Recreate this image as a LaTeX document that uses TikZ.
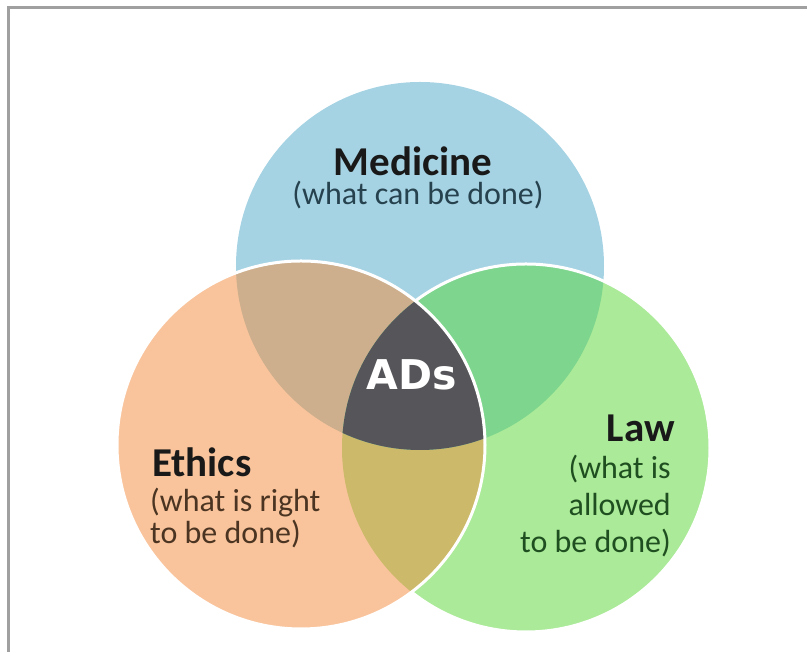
\documentclass[tikz,border=0pt]{standalone}
\usepackage{fontspec}
\setmainfont{Carlito}
\newfontfamily\adsfont{DejaVu Sans}
\usepackage{tikz}
\usetikzlibrary{positioning}
\definecolor{medblue}{HTML}{A6D3E3}
\definecolor{ethorange}{HTML}{F9C49C}
\definecolor{lawgreen}{HTML}{AAEA98}
\definecolor{medeth}{HTML}{CDAF8D}
\definecolor{medlaw}{HTML}{7ED68E}
\definecolor{ethlaw}{HTML}{CCBA6A}
\definecolor{allthree}{HTML}{56565A}
\definecolor{framegray}{HTML}{A0A0A0}
\definecolor{medtxt}{HTML}{27424F}
\definecolor{ethtxt}{HTML}{4B3522}
\definecolor{lawtxt}{HTML}{1F4F20}
\tikzset{
vd_title/.style = {inner sep=0pt, font=\fontsize{41}{45}\selectfont\bfseries, text=black!90},% set name
vd_sub/.style = {inner sep=0pt, font=\fontsize{32}{32}\selectfont},% what the set means
vd_ads/.style = {inner sep=0pt, font=\adsfont\bfseries\fontsize{41}{41}\selectfont, text=white},% middle
vd_rim/.style = {draw=white, line width=3pt}% white edge of a disc
}
\begin{document}
\begin{tikzpicture}[x=1pt, y=1pt]
	\useasboundingbox (0,0) rectangle (807,652);
	\coordinate (medc) at (420,386);
	\coordinate (ethc) at (301,207);
	\coordinate (lawc) at (526,204);
	% discs
	\fill[medblue] (medc) circle[radius=184];
	\fill[lawgreen] (lawc) circle[radius=184];
	\fill[ethorange] (ethc) circle[radius=184];
	% overlaps
	\begin{scope}
	  \clip (ethc) circle[radius=184];
	  \fill[ethlaw] (lawc) circle[radius=184];
	\end{scope}
	\begin{scope}
	  \clip (medc) circle[radius=184];
	  \fill[medeth] (ethc) circle[radius=184];
	  \fill[medlaw] (lawc) circle[radius=184];
	  \clip (ethc) circle[radius=184];
	  \fill[allthree] (lawc) circle[radius=184];
	\end{scope}
	% white edges
	\begin{scope}[even odd rule]
	  \clip (0,0) rectangle (807,652) (ethc) circle[radius=184];
	  \draw[vd_rim] (lawc) circle[radius=184];
	\end{scope}
	\draw[vd_rim] (ethc) circle[radius=184];
	\draw[framegray, line width=3pt] (8,0) -- (8,644) -- (807,644);
	% labels (base = last line)
	\node[vd_title, anchor=base] (medt) at (413,476) {Medicine};
	\node[vd_sub, anchor=base, text=medtxt] (meds) at (418,447) {(what can be done)};
	\node[vd_title, anchor=base west] (etht) at (152,175) {Ethics};
	\node[vd_sub, anchor=base west, align=left, text=ethtxt] (eths) at (150,108) {(what is right\\to be done)};
	\node[vd_title, anchor=base east] (lawt) at (675,210) {Law};
	\node[vd_sub, anchor=base east, align=right, text=lawtxt, font=\fontsize{32}{37}\selectfont] (laws) at (671,99) {(what is\\allowed\\to be done)};
	\node[vd_ads, anchor=base] (ads) at (412,262) {ADs};
\end{tikzpicture}
\end{document}
